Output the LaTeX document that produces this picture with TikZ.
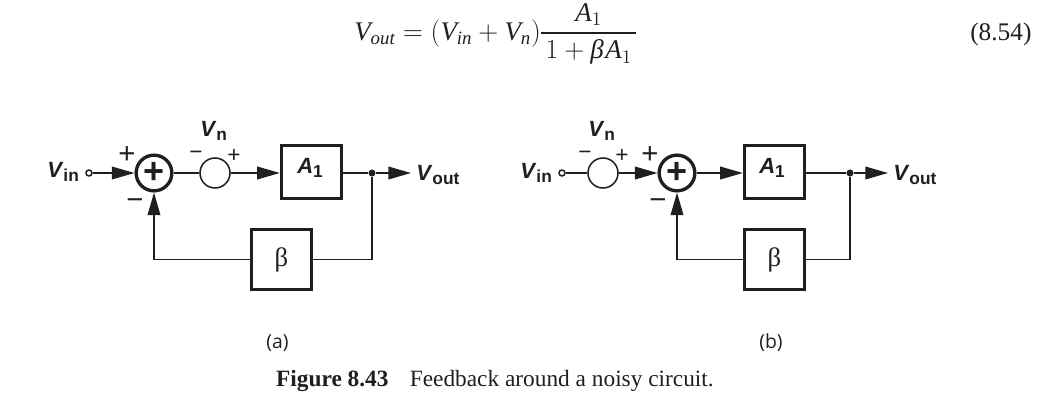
\documentclass[tikz,border=0pt]{standalone}
\usepackage{amsmath}
\usepackage{fontspec}
\setsansfont{Liberation Sans}
\setmainfont{Liberation Serif}
\newfontfamily\figtag{Open Sans}
\usetikzlibrary{arrows.meta}
\definecolor{ink}{gray}{0.12}
\tikzset{
 px/.style={x=0.75pt,y=-0.75pt},
 wire/.style={line width=1.15pt,draw=ink},
 arr/.style={wire,-{Triangle[length=17pt,width=9.5pt]}},
 bx/.style={draw=ink,line width=2.5pt,fill=white,inner sep=0,minimum width=45pt},
 alab/.style={text=ink,inner sep=0,anchor=base west},
 sgnb/.style={text=ink,font=\sffamily\fontsize{22}{22}\selectfont,inner sep=0},
 sgns/.style={text=ink,font=\sffamily\fontsize{17}{17}\selectfont,inner sep=0},
 sublab/.style={text=ink,font=\figtag\fontsize{14.5}{16}\selectfont,inner sep=0},
 sumn/.style={circle,draw=ink,line width=2.5pt,fill=white,minimum size=26.8pt,inner sep=0,text=ink},
 src/.style={circle,draw=ink,line width=1.15pt,fill=white,minimum size=22.5pt,inner sep=0},
 port/.style={circle,draw=ink,line width=1.1pt,fill=white,minimum size=4.5pt,inner sep=0},
 dot/.style={circle,fill=ink,minimum size=5.3pt,inner sep=0},
}
\newcommand{\BL}[2]{{\sffamily\bfseries\fontsize{16.5}{18}\selectfont\textit{#1}\fontsize{13}{14}\selectfont\raisebox{-3.4pt}{#2}}}
\newcommand{\SUMPLUS}{\fontsize{27}{27}\selectfont\bfseries\sffamily +}
\newcommand{\IT}[1]{\text{\itshape #1}}
\newcommand{\BETA}{\fontsize{20}{20}\selectfont\raisebox{-2pt}{β}}
\begin{document}
\begin{tikzpicture}[px]
\useasboundingbox (0,0) rectangle (1055,407);
\node[alab,text=ink,font=\fontsize{20.2}{24}\selectfont] (eq) at (354,40) {$\IT{V}_{\IT{out}}=(\IT{V}_{\IT{in}}+\IT{V}_{\IT{n}})\mkern-1mu\genfrac{}{}{1.2pt}{0}{\IT{A}_{1}\rule[-3.5pt]{0pt}{0pt}}{\mkern3mu 1+\IT{β}\mkern1mu\IT{A}_{1}\mkern3mu}$};
\node[alab,font=\fontsize{19}{22}\selectfont] (eqn) at (970,40) {(8.54)};
% (a)
\node[alab] (vina) at (47,177) {\BL{V}{in}};
\node[port] (pa) at (89,173) {};
\node[sumn] (sa) at (154,173) {\SUMPLUS};
\node[src] (na) at (215,173) {};
\node[bx,minimum height=39.75pt] (aa) at (311.5,172) {};
\node[alab] (a1a) at (297,173) {\BL{A}{1}};
\node[bx,minimum height=45pt,text=ink] (ba) at (281.5,259.5) {\BETA};
\node[dot] (da) at (372,173) {};
\coordinate (ea) at (411,173);
\node[alab] (vouta) at (416,180) {\BL{V}{out}};
\node[alab] (vna) at (200,136) {\BL{V}{n}};
\draw[arr] (pa) -- (sa);
\draw[wire] (sa) -- (na);
\draw[arr] (na) -- (aa.west|-na);
\draw[wire] (aa.east|-da) -- (da);
\draw[arr] (da) -- (ea);
\draw[wire] (da) |- (ba);
\draw[arr] (ba) -| (sa);
\node[sgnb] (pa1) at (127,155) {+};
\node[sgnb] (ma1) at (135,204) {−};
\node[sgns] (ma2) at (196,155) {−};
\node[sgns] (pa2) at (234,156) {+};
\node[sublab] (fa) at (277.5,343) {(a)};
% (b)
\node[alab] (vinb) at (520,178) {\BL{V}{in}};
\node[port] (pb) at (562,173) {};
\node[src] (nb) at (603,173) {};
\node[sumn] (sb) at (677,173) {\SUMPLUS};
\node[bx,minimum height=39.75pt] (ab) at (774.5,172) {};
\node[alab] (a1b) at (759,173) {\BL{A}{1}};
\node[bx,minimum height=45pt,text=ink] (bb) at (774.5,259.5) {\BETA};
\node[dot] (db) at (850,173) {};
\coordinate (eb) at (888,173);
\node[alab] (voutb) at (893,180) {\BL{V}{out}};
\node[alab] (vnb) at (588,136) {\BL{V}{n}};
\draw[wire] (pb) -- (nb);
\draw[arr] (nb) -- (sb);
\draw[arr] (sb) -- (ab.west|-sb);
\draw[wire] (ab.east|-db) -- (db);
\draw[arr] (db) -- (eb);
\draw[wire] (db) |- (bb);
\draw[arr] (bb) -| (sb);
\node[sgnb] (pb1) at (650,155) {+};
\node[sgnb] (mb1) at (658,204) {−};
\node[sgns] (mb2) at (585,155) {−};
\node[sgns] (pb2) at (622,156) {+};
\node[sublab] (fb) at (771,343) {(b)};
\node[alab,anchor=base east,font=\fontsize{17.5}{20}\selectfont] (capn) at (714,386) {\textbf{Figure 8.43}\hspace{16pt}Feedback around a noisy circuit.};
\end{tikzpicture}
\end{document}
